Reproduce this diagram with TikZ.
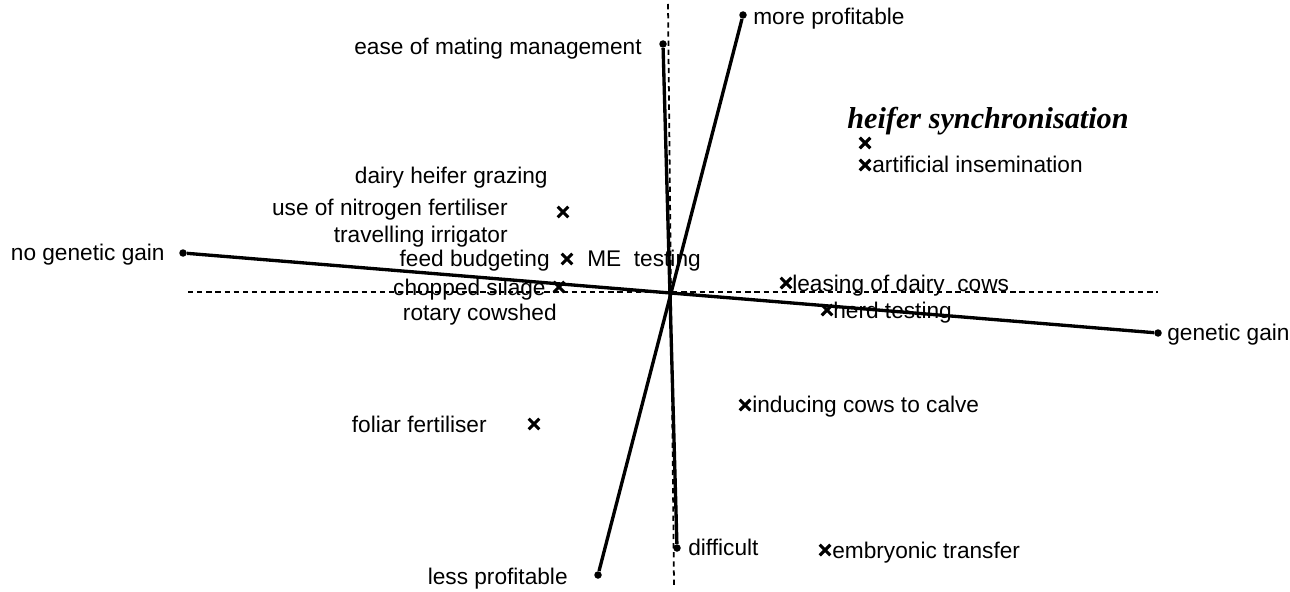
\documentclass[tikz,border=0pt]{standalone}
\usepackage{fontspec}
\setmainfont{Liberation Sans}
\newfontfamily\titlefont{Liberation Serif}
\usetikzlibrary{shapes.misc}
\begin{document}
\begin{tikzpicture}[x=0.02cm,y=-0.02cm,
  axisline/.style={line width=1.9pt},
  refline/.style={line width=1pt, dash pattern=on 3pt off 2.2pt},
  enddot/.style={circle, fill, inner sep=0pt, minimum size=0.15cm},
  lbl/.style={font=\fontsize{12.9}{15}\selectfont, inner sep=0pt, yshift=-0.05cm},
  lblw/.style={lbl, anchor=mid west},
  lble/.style={lbl, anchor=mid east},
  xmark/.style={cross out, draw, line width=1.8pt, minimum size=0.15cm, inner sep=0pt}]
\useasboundingbox (0,0) rectangle (1290,591);

% dashed reference axes
\coordinate (hl) at (188,292);
\coordinate (hr) at (1158,292);
\coordinate (vt) at (668,4);
\coordinate (vb) at (674,586);
\draw[refline] (hl) -- (hr);
\draw[refline] (vt) -- (vb);

% end points of the three rating axes
\node[enddot] (ngg)  at (183,253) {};
\node[enddot] (gg)   at (1158,333) {};
\node[enddot] (mp)   at (743,15) {};
\node[enddot] (lp)   at (598,575) {};
\node[enddot] (ease) at (663,44) {};
\node[enddot] (diff) at (677,548) {};

\draw[axisline] (ngg) -- (gg);
\draw[axisline] (mp) -- (lp);
\draw[axisline] (ease) -- (diff);

% axis labels
\node[lble] (tngg)  at (165,253) {no genetic gain};
\node[lblw] (tgg)   at (1167,333) {genetic gain};
\node[lblw] (tmp)   at (753,17) {more profitable};
\node[lble] (tlp)   at (568,577) {less profitable};
\node[lble] (tease) at (642,47) {ease of mating management};
\node[lblw] (tdiff) at (688,548) {difficult};

% title of the upper right group
\node[anchor=mid west, inner sep=0pt, yshift=-0.05cm, font=\titlefont\bfseries\itshape\fontsize{17.2}{20}\selectfont]
  (ths) at (847,121) {heifer synchronisation};

% rated practices
\node[xmark] (m1) at (865,143) {};
\node[xmark] (m2) at (865,165) {};
\node[lblw] (t2) at (872,165) {artificial insemination};

\node[lble] (t3a) at (548,176) {dairy heifer grazing};
\node[lble] (t3b) at (508,208) {use of nitrogen fertiliser};
\node[xmark] (m3) at (563,212) {};
\node[lble] (t3c) at (508,235) {travelling irrigator};

\node[lble] (t4) at (550,259) {feed budgeting};
\node[xmark] (m4) at (567,259) {};
\node[lblw] (t4b) at (587,259) {ME\ \ testing};

\node[lble] (t5) at (546,288) {chopped silage};
\node[xmark] (m5) at (559,287) {};
\node[lble] (t5b) at (557,313) {rotary cowshed};

\node[xmark] (m6) at (786,283) {};
\node[lblw] (t6) at (792,284) {leasing of dairy\ \ cows};

\node[xmark] (m7) at (827,310) {};
\node[lblw] (t7) at (833,311) {herd testing};

\node[lble] (t8) at (487,425) {foliar fertiliser};
\node[xmark] (m8) at (534,424) {};

\node[xmark] (m9) at (745,405) {};
\node[lblw] (t9) at (752,405) {inducing cows to calve};

\node[xmark] (m10) at (825,550) {};
\node[lblw] (t10) at (832,551) {embryonic transfer};
\end{tikzpicture}
\end{document}
